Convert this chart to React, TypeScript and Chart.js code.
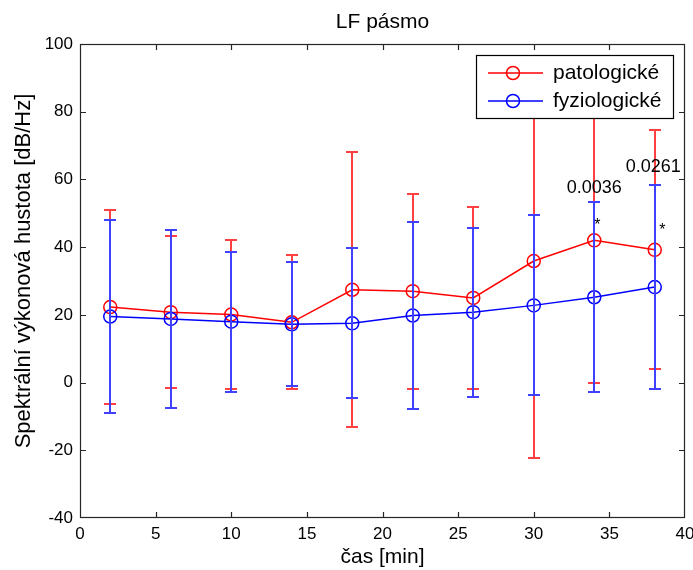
import React, { useEffect, useRef } from "react";
import { Chart, registerables } from "chart.js";

Chart.register(...registerables);

const TIMES = [2, 6, 10, 14, 18, 22, 26, 30, 34, 38];
const PAT_MEAN = [22.3, 20.8, 20.1, 17.8, 27.4, 27.0, 25.0, 35.9, 42.0, 39.2];
const PAT_ERR = [28.6, 22.5, 21.9, 19.8, 40.6, 28.8, 27.0, 58.3, 42.1, 35.3];
const FYZ_MEAN = [19.5, 18.8, 18.0, 17.2, 17.5, 19.8, 20.8, 22.8, 25.2, 28.2];
const FYZ_ERR = [28.5, 26.2, 20.7, 18.3, 22.1, 27.6, 25.0, 26.6, 28.0, 30.1];

const SERIES_NAMES = ["patologické", "fyziologické"];
const SERIES_COLORS = ["#ff0000", "#0000ff"];
const ERRBAR_COLORS = ["#ff4040", "#4040ff"];

const P_LABELS = ["0.0036", "0.0261"];
const P_X = [34, 37.9];
const P_Y = [57.5, 63.7];
const STAR_X = [34.2, 38.5];
const STAR_Y = [47.3, 45.8];

const TITLE = "LF pásmo";
const X_TITLE = "čas [min]";
const Y_TITLE = "Spektrální výkonová hustota [dB/Hz]";

const FONT = "'Liberation Sans', Arial, Helvetica, sans-serif";
const AXIS_COLOR = "#262626";

const ERRS = [PAT_ERR, FYZ_ERR];
const MEANS = [PAT_MEAN, FYZ_MEAN];

const matlabPlugin = {
  id: "matlabDecor",
  afterDatasetDraw(chart: any, args: any) {
    const i = args.index;
    const ctx = chart.ctx;
    const xs = chart.scales.x;
    const ys = chart.scales.y;
    const means = MEANS[i];
    const errs = ERRS[i];
    ctx.save();
    ctx.strokeStyle = ERRBAR_COLORS[i];
    ctx.lineWidth = 2;
    for (let k = 0; k < TIMES.length; k++) {
      const px = Math.round(xs.getPixelForValue(TIMES[k]));
      const yTop = Math.round(ys.getPixelForValue(means[k] + errs[k]));
      const yBot = Math.round(ys.getPixelForValue(means[k] - errs[k]));
      ctx.beginPath();
      ctx.moveTo(px, yTop);
      ctx.lineTo(px, yBot);
      ctx.moveTo(px - 6, yTop);
      ctx.lineTo(px + 6, yTop);
      ctx.moveTo(px - 6, yBot);
      ctx.lineTo(px + 6, yBot);
      ctx.stroke();
    }
    ctx.restore();
  },
  afterDraw(chart: any) {
    const ctx = chart.ctx;
    const { left, right, top, bottom } = chart.chartArea;
    const xs = chart.scales.x;
    const ys = chart.scales.y;
    ctx.save();
    // box
    ctx.strokeStyle = AXIS_COLOR;
    ctx.lineWidth = 1.2;
    ctx.strokeRect(left + 0.5, top + 0.5, right - left - 1, bottom - top - 1);
    // ticks inward
    ctx.beginPath();
    xs.ticks.forEach((t: any) => {
      const px = Math.round(xs.getPixelForValue(t.value)) + 0.5;
      if (px < left + 2 || px > right - 2) return;
      ctx.moveTo(px, bottom);
      ctx.lineTo(px, bottom - 6);
      ctx.moveTo(px, top);
      ctx.lineTo(px, top + 6);
    });
    ys.ticks.forEach((t: any) => {
      const py = Math.round(ys.getPixelForValue(t.value)) + 0.5;
      if (py < top + 2 || py > bottom - 2) return;
      ctx.moveTo(left, py);
      ctx.lineTo(left + 6, py);
      ctx.moveTo(right, py);
      ctx.lineTo(right - 6, py);
    });
    ctx.stroke();

    // titles
    ctx.fillStyle = "#000";
    ctx.textAlign = "center";
    ctx.textBaseline = "middle";
    ctx.font = `21px ${FONT}`;
    ctx.fillText(TITLE, (left + right) / 2, 22);
    ctx.fillText(X_TITLE, (left + right) / 2, 557);
    ctx.save();
    ctx.font = `22px ${FONT}`;
    ctx.translate(24, 271);
    ctx.rotate(-Math.PI / 2);
    ctx.fillText(Y_TITLE, 0, 0);
    ctx.restore();

    // annotations
    ctx.font = `18px ${FONT}`;
    for (let k = 0; k < P_LABELS.length; k++) {
      ctx.fillText(P_LABELS[k], xs.getPixelForValue(P_X[k]), ys.getPixelForValue(P_Y[k]));
    }
    ctx.font = `16px ${FONT}`;
    for (let k = 0; k < STAR_X.length; k++) {
      ctx.fillText("*", xs.getPixelForValue(STAR_X[k]), ys.getPixelForValue(STAR_Y[k]) + 3);
    }

    // legend
    const lw = 197;
    const lh = 63;
    const lx = right - 12 - lw;
    const ly = top + 11;
    ctx.fillStyle = "#ffffff";
    ctx.fillRect(lx, ly, lw, lh);
    ctx.strokeStyle = "#000";
    ctx.lineWidth = 1.2;
    ctx.strokeRect(lx + 0.5, ly + 0.5, lw, lh);
    ctx.font = `21px ${FONT}`;
    ctx.textAlign = "left";
    for (let k = 0; k < SERIES_NAMES.length; k++) {
      const cy = ly + 18 + k * 28;
      ctx.strokeStyle = SERIES_COLORS[k];
      ctx.lineWidth = 1.5;
      ctx.beginPath();
      ctx.moveTo(lx + 12, cy);
      ctx.lineTo(lx + 67, cy);
      ctx.stroke();
      ctx.beginPath();
      ctx.arc(lx + 37, cy, 6.5, 0, Math.PI * 2);
      ctx.stroke();
      ctx.fillStyle = "#000";
      ctx.fillText(SERIES_NAMES[k], lx + 77, cy);
    }
    ctx.restore();
  },
};

export default function App() {
  const ref = useRef<HTMLCanvasElement | null>(null);
  useEffect(() => {
    document.body.style.margin = "0";
    const canvas = ref.current!;
    const mk = (i: number, order: number) => ({
      label: SERIES_NAMES[i],
      data: TIMES.map((t, k) => ({ x: t, y: MEANS[i][k] })),
      borderColor: SERIES_COLORS[i],
      backgroundColor: "rgba(0,0,0,0)",
      pointBackgroundColor: "rgba(0,0,0,0)",
      pointBorderColor: SERIES_COLORS[i],
      pointRadius: 6.5,
      pointBorderWidth: 1.5,
      borderWidth: 1.5,
      tension: 0,
      order,
    });
    const chart = new Chart(canvas, {
      type: "line",
      data: { datasets: [mk(0, 1), mk(1, 0)] },
      plugins: [matlabPlugin],
      options: {
        animation: false,
        responsive: false,
        devicePixelRatio: 1,
        layout: { padding: { top: 44, right: 8, left: 0, bottom: 0 } },
        plugins: { legend: { display: false }, tooltip: { enabled: false }, title: { display: false } },
        scales: {
          x: {
            type: "linear",
            min: 0,
            max: 40,
            grid: { display: false, drawTicks: false },
            border: { display: false },
            ticks: { stepSize: 5, color: "#000", padding: 6, font: { family: FONT, size: 17 }, maxRotation: 0 },
            afterFit: (s: any) => {
              s.height = 52;
              s.paddingLeft = 0;
              s.paddingRight = 0;
            },
          },
          y: {
            type: "linear",
            min: -40,
            max: 100,
            grid: { display: false, drawTicks: false },
            border: { display: false },
            ticks: { stepSize: 20, color: "#000", padding: 7, font: { family: FONT, size: 17 } },
            afterFit: (s: any) => {
              s.width = 80;
              s.paddingTop = 0;
              s.paddingBottom = 0;
            },
          },
        },
      },
    } as any);
    return () => chart.destroy();
  }, []);
  return (
    <div style={{ position: "absolute", left: 0, top: 0, width: 693, height: 570, background: "#fff" }}>
      <canvas ref={ref} width={693} height={570} />
    </div>
  );
}
